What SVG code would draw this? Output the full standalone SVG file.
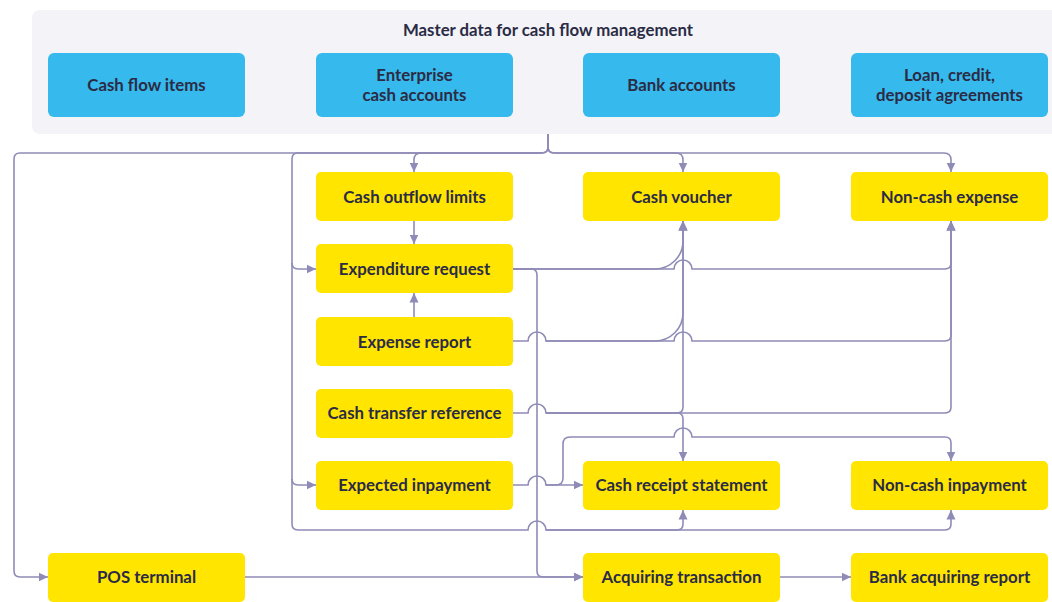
<svg xmlns="http://www.w3.org/2000/svg" width="1052" height="602" viewBox="0 0 1052 602">
<defs>
<style>
.panel{fill:#f3f3f8}
.blue{fill:#36b9ec}
.yel{fill:#ffe500}
.t{font-family:Lato,"Liberation Sans",sans-serif;font-weight:700;font-size:16.8px;fill:#2b2b45;text-anchor:middle;dominant-baseline:central}
.c path{fill:none;stroke:#8f8bb7;stroke-width:1.6;marker-end:url(#ah)}
</style>
<marker id="ah" markerUnits="userSpaceOnUse" markerWidth="10" markerHeight="10" refX="9.5" refY="5" orient="auto">
<path d="M0,0.5 L9.5,5 L0,9.5 z" fill="#8f8bb7"/>
</marker>
</defs>
<rect class="panel" x="32" y="10" width="1040" height="124" rx="8"/>
<text class="t" x="548" y="29.5">Master data for cash flow management</text>

<g class="c" id="connectors">
<path d="M548,134 V147 Q548,153 542,153 H20 Q14,153 14,159 V571 Q14,577 20,577 H48"/>
<path d="M548,134 V147 Q548,153 542,153 H421 Q414,153 414,160 V172"/>
<path d="M548,134 V147 Q548,153 554,153 H676 Q683,153 683,160 V172"/>
<path d="M548,147 Q548,153 554,153 H944 Q951,153 951,160 V172"/>
<path d="M542,153 H298 Q292,153 292,159 V263 Q292,269 298,269 H316"/>
<path d="M292,263 V479 Q292,485 298,485 H316"/>
<path d="M292,479 V524 Q292,530 298,530 H528 a9,9 0 0 1 18,0 H677 Q683,530 683,524 V510"/>
<path d="M546,530 H945 Q951,530 951,524 V510"/>
<path d="M414,221 V244"/>
<path d="M414,317 V293"/>
<path d="M513,269 H531 Q537,269 537,275 V571 Q537,577 543,577 H583"/>
<path d="M513,269 H655 A28,28 0 0 0 683,241 V221"/>
<path d="M513,269 H674 a9,9 0 0 1 18,0 H945 Q951,269 951,263 V221"/>
<path d="M513,341 H528 a9,9 0 0 1 18,0 H655 A28,28 0 0 0 683,313 V221"/>
<path d="M546,341 H674 a9,9 0 0 1 18,0 H945 Q951,341 951,335 V221"/>
<path d="M513,413 H528 a9,9 0 0 1 18,0 H677 Q683,413 683,407 V221"/>
<path d="M546,413 H677 Q683,413 683,419 V461"/>
<path d="M546,413 H945 Q951,413 951,407 V221"/>
<path d="M513,485 H528 a9,9 0 0 1 18,0 H583"/>
<path d="M546,485 H556 Q563,485 563,478 V444 Q563,437 570,437 H674 a9,9 0 0 1 18,0 H945 Q951,437 951,443 V461"/>
<path d="M245,577 H583"/>
<path d="M780,577 H851"/>
</g>

<g id="cash-flow-items"><rect class="blue" x="48" y="53" width="197" height="64" rx="6"/><text class="t" x="146.5" y="84.5">Cash flow items</text></g>
<g id="enterprise-cash-accounts"><rect class="blue" x="316" y="53" width="197" height="64" rx="6"/><text class="t" x="414.5" y="74.5">Enterprise</text><text class="t" x="414.5" y="94.5">cash accounts</text></g>
<g id="bank-accounts"><rect class="blue" x="583" y="53" width="197" height="64" rx="6"/><text class="t" x="681.5" y="84.5">Bank accounts</text></g>
<g id="loan-agreements"><rect class="blue" x="851" y="53" width="197" height="64" rx="6"/><text class="t" x="949.5" y="74.5">Loan, credit,</text><text class="t" x="949.5" y="94.5">deposit agreements</text></g>

<g id="cash-outflow-limits"><rect class="yel" x="316" y="172" width="197" height="49" rx="5"/><text class="t" x="414.5" y="196.5">Cash outflow limits</text></g>
<g id="cash-voucher"><rect class="yel" x="583" y="172" width="197" height="49" rx="5"/><text class="t" x="681.5" y="196.5">Cash voucher</text></g>
<g id="non-cash-expense"><rect class="yel" x="851" y="172" width="197" height="49" rx="5"/><text class="t" x="949.5" y="196.5">Non-cash expense</text></g>
<g id="expenditure-request"><rect class="yel" x="316" y="244" width="197" height="49" rx="5"/><text class="t" x="414.5" y="268.5">Expenditure request</text></g>
<g id="expense-report"><rect class="yel" x="316" y="317" width="197" height="49" rx="5"/><text class="t" x="414.5" y="341.5">Expense report</text></g>
<g id="cash-transfer-reference"><rect class="yel" x="316" y="389" width="197" height="49" rx="5"/><text class="t" x="414.5" y="412.5">Cash transfer reference</text></g>
<g id="expected-inpayment"><rect class="yel" x="316" y="461" width="197" height="49" rx="5"/><text class="t" x="414.5" y="484.5">Expected inpayment</text></g>
<g id="cash-receipt-statement"><rect class="yel" x="583" y="461" width="197" height="49" rx="5"/><text class="t" x="681.5" y="484.5">Cash receipt statement</text></g>
<g id="non-cash-inpayment"><rect class="yel" x="851" y="461" width="197" height="49" rx="5"/><text class="t" x="949.5" y="484.5">Non-cash inpayment</text></g>
<g id="pos-terminal"><rect class="yel" x="48" y="553" width="197" height="49" rx="5"/><text class="t" x="146.5" y="576.5">POS terminal</text></g>
<g id="acquiring-transaction"><rect class="yel" x="583" y="553" width="197" height="49" rx="5"/><text class="t" x="681.5" y="576.5">Acquiring transaction</text></g>
<g id="bank-acquiring-report"><rect class="yel" x="851" y="553" width="197" height="49" rx="5"/><text class="t" x="949.5" y="576.5">Bank acquiring report</text></g>
</svg>
